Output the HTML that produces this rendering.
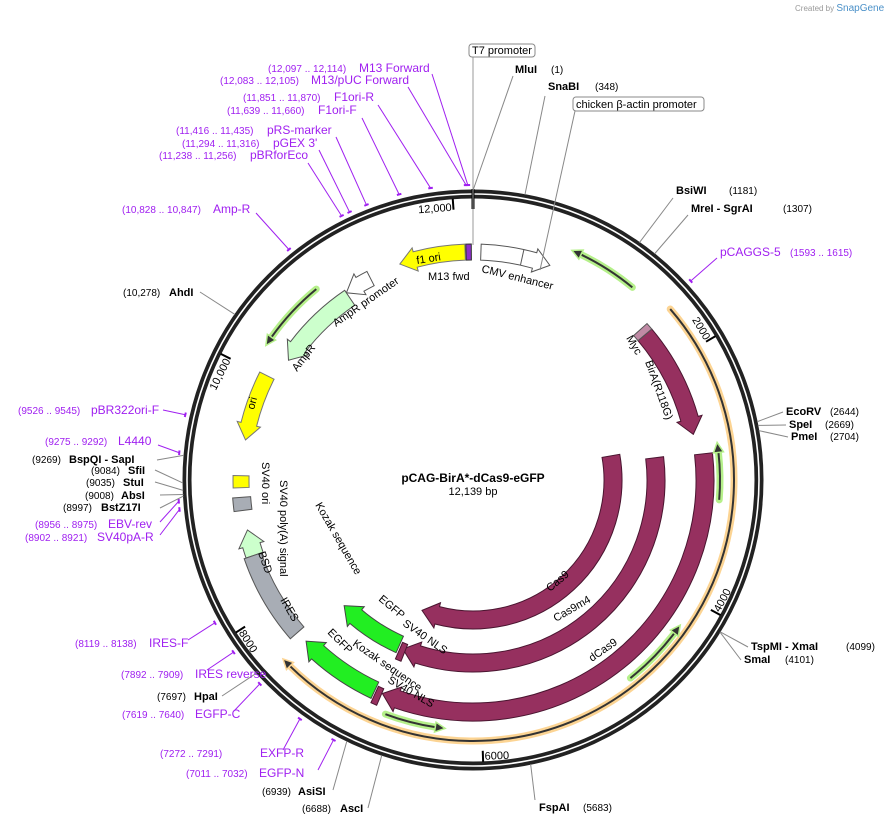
<!DOCTYPE html>
<html><head><meta charset="utf-8"><style>
body{margin:0;background:#fff;}
svg{display:block;font-family:"Liberation Sans","DejaVu Sans",sans-serif;}
.p{fill:#a020f0;font-size:12px}.pc{fill:#a020f0;font-size:10px}
.e{fill:#000;font-size:11px;font-weight:bold}.ec{fill:#000;font-size:10px}
.f{font-size:11px;fill:#000}
</style></head><body>
<svg id="map" width="892" height="826" viewBox="0 0 892 826">
<text x="795" y="11" font-size="8" fill="#999">Created by <tspan fill="#4a90c8" font-size="10">SnapGene</tspan></text>
<g id="ring"></g>
<g id="feats"></g>
<g id="lines"></g>
<g id="labels">
<text x="473" y="482" text-anchor="middle" font-size="12" font-weight="bold">pCAG-BirA*-dCas9-eGFP</text>
<text x="473" y="495" text-anchor="middle" font-size="11">12,139 bp</text>
<rect x="469" y="44" width="66" height="13" rx="3" fill="#fff" stroke="#888"/>
<text x="472" y="54" font-size="11">T7 promoter</text>
<rect x="573" y="97" width="131" height="14" rx="3" fill="#fff" stroke="#888"/>
<text x="576" y="108" font-size="11">chicken β-actin promoter</text>
</g>
</svg>
<script>
const TOTAL = 12139;
const featNames = ["BirA","Myc","dCas9","Cas9m4","Cas9","CAG","primer1","primer2","primer3","primer4","primer5","f1ori","M13fwd","CMV","AmpRprom","AmpR","ori","SV40ori","SV40pA","BSD","IRES","EGFP1","EGFP2","NLS1","NLS2"];
const featStart = [1680,1620,2816,2800,2700,1655,786,2740,4215,6285,10217,11508,12080,67,10990,10217,9441,9040,8850,8464,7722,6913,6879,6850,6800];
const featEnd   = [2640,1680,6845,6830,6790,7645,1335,3190,4772,6761,10811,12072,12125,664,11230,10990,10010,9140,8960,8683,8464,7621,7611,6900,6860];
const featDir   = [1,0,1,1,1,1,-1,-1,-1,-1,-1,-1,0,1,-1,-1,-1,0,0,1,0,1,1,0,0];
const featTrack = [225,225,232,183,140,261,250,247,253,250,247,228,228,228,226,220,231,232,232,231,233,232,180,236,186];
const featKind  = ["m","k","m","m","m","o","g","g","g","g","g","y","p","w","w","a","y","y","s","a","s","G","G","m","m"];

const lineLabelX = [513,545,673,688,717,783,786,788,748,741,535,368,333,318,283,234,222,207,188,160,160,160,160,155,155,157,158,163,200,256,308,319,336,362,378,408,432];
const lineLabelY = [76,96,198,215,258,412,425,437,647,660,800,808,790,770,750,711,696,670,640,535,522,508,495,482,470,460,445,410,292,213,163,150,137,118,105,87,74];
const lineBp     = [1,348,1181,1307,1604,2644,2669,2704,4099,4101,5683,6688,6939,7021,7281,7630,7697,7900,8128,8911,8965,8997,9008,9035,9084,9269,9283,9535,10278,10837,11247,11305,11425,11650,11860,12094,12105];
const lineIsPrimer=[0,0,0,0,1,0,0,0,0,0,0,0,0,1,1,1,0,1,1,1,1,0,0,0,0,0,1,1,0,1,1,1,1,1,1,1,1];

const tickBp = [2000,4000,6000,8000,10000,12000];
const tickText = ["2000","4000","6000","8000","10,000","12,000"];

const cx=473, cy=480, NS="http://www.w3.org/2000/svg";
function ang(bp){return bp/TOTAL*2*Math.PI;}
function pt(r,bp){const a=ang(bp);return [cx+r*Math.sin(a),cy-r*Math.cos(a)];}
function P(r,a){return [cx+r*Math.sin(a),cy-r*Math.cos(a)];}
function mk(tag,attrs,parent){const el=document.createElementNS(NS,tag);for(const k in attrs)el.setAttribute(k,attrs[k]);parent.appendChild(el);return el;}

const ring=document.getElementById('ring');
let c1=mk('circle',{cx:cx,cy:cy,r:286,fill:'none',stroke:'#222','stroke-width':9},ring);


let c2=mk('circle',{cx:cx,cy:cy,r:286,fill:'none',stroke:'#fff','stroke-width':1.6},ring);


let t0=mk('line',{x1:cx,y1:cy-291,x2:cx,y2:cy-271,stroke:'#000','stroke-width':3},ring);


tickBp.forEach((b,i)=>{
  const a=pt(282,b), q=pt(271,b);
  const t=mk('line',{x1:a[0],y1:a[1],x2:q[0],y2:q[1],stroke:'#000','stroke-width':2},ring);
  
  
  const deg=b/TOTAL*360;
  const bottom=deg>90&&deg<270;
  const rot=bottom?deg-180:deg;
  const lp=pt(bottom?280:270,b-12);
  const tx=mk('text',{x:lp[0],y:lp[1],'text-anchor':bottom?'start':'end','font-size':11,transform:`rotate(${rot} ${lp[0]} ${lp[1]})`},ring);
  tx.textContent=tickText[i];
  
  
});

const styles={m:['#96305f','#4a1530',18],k:['#c08aa5','#555',18],o:['#222','#fcd493',2],g:['#333','#b5f08a',2],y:['#ffff00','#777',16],p:['#8b2fc9','#333',16],w:['#fff','#555',16],a:['#ccffcc','#555',18],s:['#a8adb5','#555',18],G:['#22ee22','#444',18]};
const feats=document.getElementById('feats');
featStart.forEach((s,i)=>{
  const e=featEnd[i], r=featTrack[i], k=featKind[i], st=styles[k], dir=featDir[i];
  let a1=ang(s), a2=ang(e); if(a2<a1)a2+=2*Math.PI;
  if(k==='o'||k==='g'){
    const w=7;
    const halo=st[1];
    let b1=a1,b2=a2; const h=10/r;
    if(dir>0)b2=a2-h; else if(dir<0)b1=a1+h;
    const p1=P(r,b1),p2=P(r,b2);
    const d=`M${p1[0]},${p1[1]} A${r},${r} 0 ${(b2-b1)>Math.PI?1:0} 1 ${p2[0]},${p2[1]}`;
    const hl=mk('path',{d:d,fill:'none',stroke:halo,'stroke-width':w,'stroke-linecap':'round'},feats);
    
    
    const ln=mk('path',{d:d,fill:'none',stroke:'#333','stroke-width':2},feats);
    
    
    let tip,base;
    if(dir>0){tip=a2;base=b2;}else{tip=a1;base=b1;}
    const A=P(r,tip),B=P(r+5,base),C=P(r-5,base);
    const hd=mk('path',{d:`M${A[0]},${A[1]} L${B[0]},${B[1]} L${C[0]},${C[1]} Z`,fill:'#333',stroke:halo,'stroke-width':1.5},feats);
    
    
    return;
  }
  const w=st[2], ro=r+w/2, ri=r-w/2;
  let h=Math.min(16/r,(a2-a1)*0.6); if(dir===0)h=0;
  let d;
  if(dir>=0){
    const b=a2-h, lf=(b-a1)>Math.PI?1:0;
    const o1=P(ro,a1),o2=P(ro,b),i1=P(ri,a1),i2=P(ri,b);
    d=`M${o1[0]},${o1[1]} A${ro},${ro} 0 ${lf} 1 ${o2[0]},${o2[1]}`;
    if(dir>0){const H1=P(ro+4,b),T=P(r,a2),H2=P(ri-4,b);d+=` L${H1[0]},${H1[1]} L${T[0]},${T[1]} L${H2[0]},${H2[1]}`;}
    d+=` L${i2[0]},${i2[1]} A${ri},${ri} 0 ${lf} 0 ${i1[0]},${i1[1]} Z`;
  } else {
    const b=a1+h, lf=(a2-b)>Math.PI?1:0;
    const o1=P(ro,b),o2=P(ro,a2),i1=P(ri,b),i2=P(ri,a2);
    const H1=P(ro+4,b),T=P(r,a1),H2=P(ri-4,b);
    d=`M${o1[0]},${o1[1]} A${ro},${ro} 0 ${lf} 1 ${o2[0]},${o2[1]} L${i2[0]},${i2[1]} A${ri},${ri} 0 ${lf} 0 ${i1[0]},${i1[1]} L${H2[0]},${H2[1]} L${T[0]},${T[1]} L${H1[0]},${H1[1]} Z`;
  }
  const el=mk('path',{d:d,fill:st[0],stroke:st[1],'stroke-width':1},feats);
  
  
});
(function(){const a=pt(220,420),b=pt(236,420);const l=mk('line',{x1:a[0],y1:a[1],x2:b[0],y2:b[1],stroke:'#555'},feats);

})();

const lines=document.getElementById('lines');
lineBp.forEach((b,i)=>{
  const pr=lineIsPrimer[i];
  const end=pt(pr?295:290,b);
  const l=mk('line',{x1:lineLabelX[i],y1:lineLabelY[i],x2:end[0],y2:end[1],stroke:pr?'#a020f0':'#888','stroke-width':1},lines);
  
  
  if(pr){const m1=pt(295,b-15),m2=pt(295,b+15);
    const tk=mk('line',{x1:m1[0],y1:m1[1],x2:m2[0],y2:m2[1],stroke:'#a020f0','stroke-width':2},lines);
    
    }
});
(function(){const l=mk('line',{x1:473,y1:57,x2:473,y2:245,stroke:'#999'},lines);


const l2=mk('line',{x1:575,y1:111,x2:540,y2:270,stroke:'#888'},lines);

})();

const labelText=[
[515,73,'e','MluI'],[551,73,'ec','(1)'],[548,90,'e','SnaBI'],[595,90,'ec','(348)'],
[676,194,'e','BsiWI'],[729,194,'ec','(1181)'],[691,212,'e','MreI  - SgrAI'],[783,212,'ec','(1307)'],
[720,256,'p','pCAGGS-5'],[790,256,'pc','(1593 .. 1615)'],
[786,415,'e','EcoRV'],[830,415,'ec','(2644)'],[789,428,'e','SpeI'],[825,428,'ec','(2669)'],[791,440,'e','PmeI'],[830,440,'ec','(2704)'],
[751,650,'e','TspMI  - XmaI'],[846,650,'ec','(4099)'],[744,663,'e','SmaI'],[785,663,'ec','(4101)'],
[539,811,'e','FspAI'],[583,811,'ec','(5683)'],[302,812,'ec','(6688)'],[340,812,'e','AscI'],
[262,795,'ec','(6939)'],[298,795,'e','AsiSI'],
[186,777,'pc','(7011 .. 7032)'],[259,777,'p','EGFP-N'],[160,757,'pc','(7272 .. 7291)'],[260,757,'p','EXFP-R'],
[122,718,'pc','(7619 .. 7640)'],[195,718,'p','EGFP-C'],[157,700,'ec','(7697)'],[194,700,'e','HpaI'],
[121,678,'pc','(7892 .. 7909)'],[195,678,'p','IRES reverse'],[75,647,'pc','(8119 .. 8138)'],[149,647,'p','IRES-F'],
[25,541,'pc','(8902 .. 8921)'],[97,541,'p','SV40pA-R'],[35,528,'pc','(8956 .. 8975)'],[108,528,'p','EBV-rev'],
[63,511,'ec','(8997)'],[101,511,'e','BstZ17I'],[85,499,'ec','(9008)'],[121,499,'e','AbsI'],
[86,486,'ec','(9035)'],[123,486,'e','StuI'],[91,474,'ec','(9084)'],[128,474,'e','SfiI'],
[32,463,'ec','(9269)'],[69,463,'e','BspQI   - SapI'],[45,445,'pc','(9275 .. 9292)'],[118,445,'p','L4440'],
[18,414,'pc','(9526 .. 9545)'],[91,414,'p','pBR322ori-F'],[122,213,'pc','(10,828 .. 10,847)'],[213,213,'p','Amp-R'],
[123,296,'ec','(10,278)'],[169,296,'e','AhdI'],
[159,159,'pc','(11,238 .. 11,256)'],[250,159,'p','pBRforEco'],[182,147,'pc','(11,294 .. 11,316)'],[273,147,'p',"pGEX 3'"],
[176,134,'pc','(11,416 .. 11,435)'],[267,134,'p','pRS-marker'],[227,114,'pc','(11,639 .. 11,660)'],[318,114,'p','F1ori-F'],
[243,101,'pc','(11,851 .. 11,870)'],[334,101,'p','F1ori-R'],[220,84,'pc','(12,083 .. 12,105)'],[311,84,'p','M13/pUC Forward'],
[268,72,'pc','(12,097 .. 12,114)'],[359,72,'p','M13 Forward']];
const labels=document.getElementById('labels');
labelText.forEach(l=>{
  const t=mk('text',{x:l[0],y:l[1],class:l[2],'xml:space':'preserve'},labels);
  t.textContent=l[3];
  
  
});
const featLabels=[
[417,264,-9,'f1 ori'],[428,280,0,'M13 fwd'],[481,272,14,'CMV enhancer'],[336,327,-35,'AmpR promoter'],
[297,372,-52,'AmpR'],[254,410,-75,'ori'],[262,462,90,'SV40 ori'],[280,480,90,'SV40 poly(A) signal'],
[315,505,60,'Kozak sequence'],[258,553,70,'BSD'],[280,600,60,'IRES'],[327,633,45,'EGFP'],[378,600,40,'EGFP'],
[402,625,35,'SV40 NLS'],[352,645,35,'Kozak sequence'],[387,682,30,'SV40 NLS'],[626,338,60,'Myc'],[645,362,70,'BirA(R118G)'],
[550,592,-40,'Cas9'],[556,622,-30,'Cas9m4'],[592,662,-35,'dCas9']];
featLabels.forEach(l=>{
  const t=mk('text',{x:l[0],y:l[1],class:'f',transform:`rotate(${l[2]} ${l[0]} ${l[1]})`},labels);
  if(l[3]==='Cas9'){t.setAttribute('fill','#fff');}
  t.textContent=l[3];
  
  
});
</script>
</body></html>
